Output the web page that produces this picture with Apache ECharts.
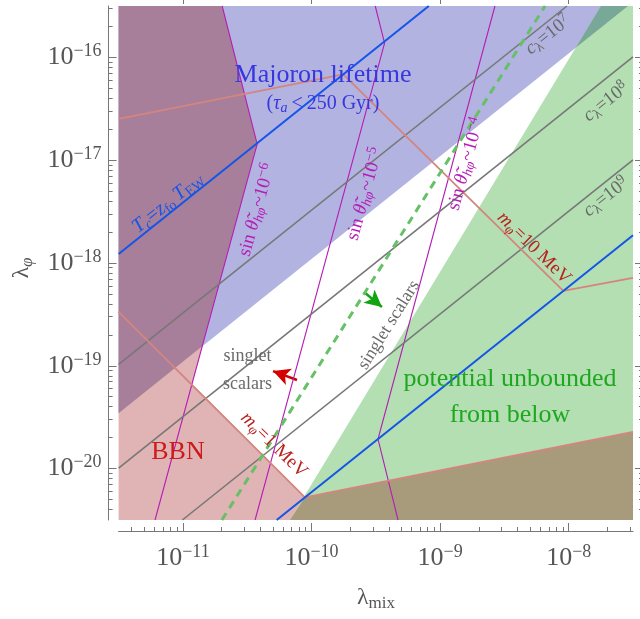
<!DOCTYPE html>
<html>
<head>
<meta charset="utf-8">
<script src="https://cdn.jsdelivr.net/npm/echarts@6/dist/echarts.min.js"></script>
<style>html,body{margin:0;padding:0;background:#fff}#c{width:640px;height:619px}</style>
</head>
<body>
<div id="c"></div>
<script>
// ---------- axis ranges and ticks ----------
const xRange = [3.162e-12, 3.162e-8];
const yRange = [3.162e-21, 3.162e-16];
const xMajorTicks = [1e-11, 1e-10, 1e-9, 1e-8];
const yMajorTicks = [1e-20, 1e-19, 1e-18, 1e-17, 1e-16];
const minorDigits = [2, 3, 4, 5, 6, 7, 8, 9];

// ---------- shaded regions [lambda_mix, lambda_phi] ----------
const regionMajoron = [[3.162e-12, 3.162e-16], [2.89e-8, 3.162e-16], [3.162e-12, 3.46e-20]];
const regionBBN = [[3.162e-12, 3.162e-16], [2.02e-11, 3.162e-16], [3.78e-11, 1.435e-17], [1.178e-11, 6.64e-20],
                   [8.89e-11, 5.25e-21], [3.162e-8, 2.27e-20], [3.162e-8, 3.162e-21], [3.162e-12, 3.162e-21]];
const regionMajoronBBN = [[3.162e-12, 3.162e-16], [2.02e-11, 3.162e-16], [3.78e-11, 1.435e-17], [1.41e-11, 1.55e-19], [3.162e-12, 3.46e-20]];
const regionUnbounded = [[6.8e-11, 3.162e-21], [1.78e-8, 3.162e-16], [3.162e-8, 3.162e-16], [3.162e-8, 3.162e-21]];
const regionMajoronUnbounded = [[1.133e-8, 1.239e-16], [1.78e-8, 3.162e-16], [2.89e-8, 3.162e-16]];
const regionBBNUnbounded = [[6.8e-11, 3.162e-21], [8.89e-11, 5.25e-21], [3.162e-8, 2.27e-20], [3.162e-8, 3.162e-21]];

// ---------- curves ----------
const lineTcZfoTEW = [[3.162e-12, 1.224e-18], [8.17e-10, 3.162e-16]];
const lineTcTEW = [[5.36e-11, 3.162e-21], [3.162e-8, 1.865e-18]];
const lineC7 = [[3.162e-12, 1.03e-19], [9.7e-9, 3.162e-16]];
const lineC8 = [[3.162e-12, 1.01e-20], [3.162e-8, 1.01e-16]];
const lineC9 = [[9.9e-12, 3.162e-21], [3.162e-8, 1.01e-17]];
const lineSin6 = [[2.02e-11, 3.162e-16], [3.78e-11, 1.435e-17], [6.07e-12, 3.162e-21]];
const lineSin5 = [[3.13e-10, 3.162e-16], [3.70e-10, 1.377e-16], [3.64e-11, 3.162e-21]];
const lineSin4 = [[2.67e-9, 3.162e-16], [3.29e-10, 1.94e-20], [4.71e-10, 3.162e-21]];
const line10MeV = [[3.162e-12, 2.52e-17], [1.766e-10, 6.83e-17], [9.08e-9, 5.36e-19], [3.162e-8, 7.15e-19]];
const line1MeV = [[3.162e-12, 3.34e-19], [8.89e-11, 5.25e-21], [3.162e-8, 2.27e-20]];
const lineSingletBoundary = [[2.01e-11, 3.162e-21], [6.55e-9, 3.162e-16]];
const arrowLeft = [[7.71e-11, 7.28e-20], [5.02e-11, 8.89e-20]];
const arrowRight = [[2.56e-10, 5.22e-19], [3.53e-10, 3.73e-19]];

// ---------- helpers ----------
const FONT = 'Liberation Serif';
const AX = '#555';
const AXLINE = '#777';

function minorValues(range) {
  const out = [];
  const e0 = Math.floor(Math.log10(range[0])), e1 = Math.ceil(Math.log10(range[1]));
  for (let e = e0; e <= e1; e++) {
    for (const d of minorDigits) {
      const v = d * Math.pow(10, e);
      if (v >= range[0] && v <= range[1]) out.push(v);
    }
  }
  return out;
}
function powLabel(v) {
  const e = Math.round(Math.log10(v));
  return '{b|10}{s|' + (e < 0 ? '\u2212' : '') + Math.abs(e) + '}';
}
const tickRich = {
  b: {fontFamily: FONT, fontSize: 26, color: AX, lineHeight: 30},
  s: {fontFamily: FONT, fontSize: 18, color: AX, lineHeight: 20, verticalAlign: 'top'}
};
function axis(kind, pos, offset, ticks, len, labels, lineShow) {
  const range = kind === 'x' ? xRange : yRange;
  const major = kind === 'x' ? xMajorTicks : yMajorTicks;
  return {
    type: 'log', logBase: 10, min: range[0], max: range[1], position: pos, offset: offset,
    axisLine: {show: lineShow, onZero: false, lineStyle: {color: AXLINE, width: 1}},
    axisTick: {show: true, inside: true, length: len, customValues: ticks, lineStyle: {color: AXLINE, width: 1}},
    axisLabel: labels ? {show: true, customValues: major, formatter: powLabel, rich: tickRich,
                         margin: kind === 'x' ? 12 : 7} : {show: false},
    splitLine: {show: false}, minorTick: {show: false}, minorSplitLine: {show: false},
    axisPointer: {show: false}
  };
}
function regionSeries(name, pts, color, z) {
  return {
    type: 'custom', name: name, coordinateSystem: 'cartesian2d', xAxisIndex: 0, yAxisIndex: 0,
    silent: true, z: z, data: [pts[0]],
    renderItem: function (params, api) {
      return {type: 'polygon', shape: {points: pts.map(p => api.coord(p))}, style: {fill: color}};
    }
  };
}
function lineSeries(name, pts, color, width, type, z) {
  return {type: 'line', name: name, data: pts, symbol: 'none', showSymbol: false, silent: true, z: z,
          clip: true, lineStyle: {color: color, width: width, type: type, cap: 'butt'}};
}
function richFor(size, color) {
  const L = Math.round(size * 1.2), sub = Math.round(size * 0.72);
  const base = {fontFamily: FONT, fontSize: size, fill: color, lineHeight: L};
  const small = {fontFamily: FONT, fontSize: sub, fill: color, lineHeight: sub + 1};
  return {
    n: base,
    i: Object.assign({}, base, {fontStyle: 'italic'}),
    sb: Object.assign({}, small, {verticalAlign: 'bottom'}),
    sbi: Object.assign({}, small, {verticalAlign: 'bottom', fontStyle: 'italic'}),
    sp: Object.assign({}, small, {verticalAlign: 'top'})
  };
}
function txt(x, y, rotDeg, text, size, color) {
  return {type: 'text', x: x, y: y, rotation: rotDeg * Math.PI / 180, silent: true, z: 100,
          style: {text: text, fontFamily: FONT, fontSize: size, fill: color, align: 'center',
                  verticalAlign: 'middle', rich: richFor(size, color)}};
}

const BLUE_TXT = '#3737e0', BLUE_LINE = '#1455e8', MAG = '#b51db5', GRAY = '#6a6a6a', RED = '#b8221f', GREEN_TXT = '#1fa81f';
const TS = '\u2009';

const chart = echarts.init(document.getElementById('c'));
chart.setOption({
  animation: false,
  grid: {left: 118.6, top: 6, right: 7, bottom: 99, containLabel: false, outerBoundsMode: 'none'},
  xAxis: [
    axis('x', 'bottom', 11, xMajorTicks, 8, true, true),
    axis('x', 'bottom', 11, minorValues(xRange), 4, false, false),
    axis('x', 'top', 10, xMajorTicks, 8, false, true),
    axis('x', 'top', 10, minorValues(xRange), 4, false, false)
  ],
  yAxis: [
    axis('y', 'left', 10, yMajorTicks, 8, true, true),
    axis('y', 'left', 10, minorValues(yRange), 4, false, false),
    axis('y', 'right', 10, yMajorTicks, 8, false, true),
    axis('y', 'right', 10, minorValues(yRange), 4, false, false)
  ],
  series: [
    regionSeries('Majoron lifetime', regionMajoron, '#b2b3e0', 1),
    regionSeries('BBN', regionBBN, '#e0b3b4', 2),
    regionSeries('Majoron+BBN', regionMajoronBBN, '#a87f9b', 3),
    regionSeries('unbounded', regionUnbounded, '#b3dfb3', 4),
    regionSeries('Majoron+unbounded', regionMajoronUnbounded, '#7aa898', 5),
    regionSeries('BBN+unbounded', regionBBNUnbounded, '#a89b7b', 6),
    lineSeries('sin 1e-6', lineSin6, MAG, 1.1, 'solid', 10),
    lineSeries('sin 1e-5', lineSin5, MAG, 1.1, 'solid', 10),
    lineSeries('sin 1e-4', lineSin4, MAG, 1.1, 'solid', 10),
    lineSeries('c7', lineC7, '#777', 1.6, 'solid', 11),
    lineSeries('c8', lineC8, '#777', 1.6, 'solid', 11),
    lineSeries('c9', lineC9, '#777', 1.6, 'solid', 11),
    lineSeries('10 MeV', line10MeV, '#d4857e', 1.8, 'solid', 12),
    lineSeries('1 MeV', line1MeV, '#d4857e', 1.8, 'solid', 12),
    lineSeries('Tc=zfo TEW', lineTcZfoTEW, BLUE_LINE, 2, 'solid', 13),
    lineSeries('Tc=TEW', lineTcTEW, BLUE_LINE, 2, 'solid', 13),
    lineSeries('singlet boundary', lineSingletBoundary, '#66c066', 3, [8, 6], 14),
    {
      type: 'line', name: 'arrows', data: [arrowLeft[0]], symbol: 'none', silent: true, z: 15,
      lineStyle: {width: 0},
      markLine: {
        silent: true, animation: false, symbol: ['none', 'arrow'], symbolSize: [13, 17],
        label: {show: false},
        data: [
          [{coord: arrowLeft[0], lineStyle: {color: '#d40000', width: 2.5, type: 'solid'}, itemStyle: {color: '#d40000'}}, {coord: arrowLeft[1]}],
          [{coord: arrowRight[0], lineStyle: {color: '#11a611', width: 2.5, type: 'solid'}, itemStyle: {color: '#11a611'}}, {coord: arrowRight[1]}]
        ]
      }
    }
  ],
  graphic: [
    {type: 'text', x: 323, y: 75, silent: true, z: 100,
     style: {text: 'Majoron lifetime', fontFamily: FONT, fontSize: 26, fill: BLUE_TXT, align: 'center', verticalAlign: 'middle'}},
    txt(323, 103.5, 0, '{n|(}{i|τ}{sbi|a}{n|' + TS + '<' + TS + '250 Gyr)}', 20, BLUE_TXT),
    txt(168, 203, 38.6, '{i|T}{sbi|c}{n|=}{i|z}{sb|fo}{n|' + TS + '}{i|T}{sb|EW}', 20, BLUE_LINE),
    txt(257, 210, 74.8, '{n|sin }{i|θ\u0303}{sbi|hφ}{n|~10}{sp|\u22126}', 19, MAG),
    txt(365, 194, 74.8, '{n|sin }{i|θ\u0303}{sbi|hφ}{n|~10}{sp|\u22125}', 19, MAG),
    txt(466, 164, 74.8, '{n|sin }{i|θ\u0303}{sbi|hφ}{n|~10}{sp|\u22124}', 19, MAG),
    txt(548, 35, 38.6, '{i|c}{sb|λ}{n|=10}{sp|7}', 19, GRAY),
    txt(606, 102, 38.6, '{i|c}{sb|λ}{n|=10}{sp|8}', 19, GRAY),
    txt(606, 197, 38.6, '{i|c}{sb|λ}{n|=10}{sp|9}', 19, GRAY),
    txt(534, 248, -44.3, '{i|m}{sbi|φ}{n|=10 MeV}', 19, RED),
    txt(274, 445, -44.3, '{i|m}{sbi|φ}{n|=1 MeV}', 19, RED),
    {type: 'text', x: 178, y: 452, silent: true, z: 100,
     style: {text: 'BBN', fontFamily: FONT, fontSize: 26, fill: '#cc1b1b', align: 'center', verticalAlign: 'middle'}},
    {type: 'text', x: 247.5, y: 356, silent: true, z: 100,
     style: {text: 'singlet', fontFamily: FONT, fontSize: 18, fill: GRAY, align: 'center', verticalAlign: 'middle'}},
    {type: 'text', x: 247.5, y: 384, silent: true, z: 100,
     style: {text: 'scalars', fontFamily: FONT, fontSize: 18, fill: GRAY, align: 'center', verticalAlign: 'middle'}},
    {type: 'text', x: 389, y: 325, rotation: 58 * Math.PI / 180, silent: true, z: 100,
     style: {text: 'singlet scalars', fontFamily: FONT, fontSize: 18, fill: GRAY, align: 'center', verticalAlign: 'middle'}},
    {type: 'text', x: 510, y: 379, silent: true, z: 100,
     style: {text: 'potential unbounded', fontFamily: FONT, fontSize: 26, fill: GREEN_TXT, align: 'center', verticalAlign: 'middle'}},
    {type: 'text', x: 510, y: 415.5, silent: true, z: 100,
     style: {text: 'from below', fontFamily: FONT, fontSize: 26, fill: GREEN_TXT, align: 'center', verticalAlign: 'middle'}},
    txt(376, 598, 0, '{n|λ}{sb|mix}', 24, AX),
    txt(22, 268, 90, '{n|λ}{sbi|φ}', 24, AX)
  ]
});
</script>
</body>
</html>
